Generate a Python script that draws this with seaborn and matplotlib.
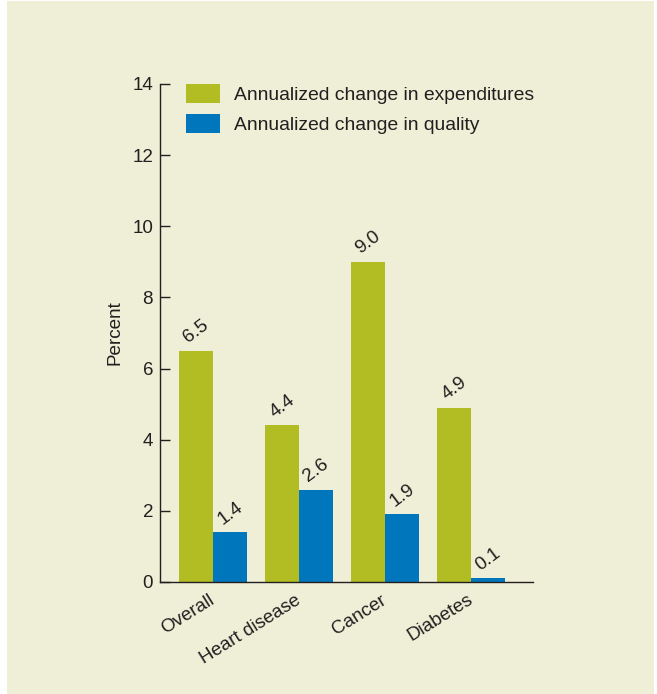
import pandas as pd
import matplotlib.pyplot as plt
import seaborn as sns
from matplotlib.patches import Rectangle

# values
categories = ['Overall', 'Heart disease', 'Cancer', 'Diabetes']
expenditures = [6.5, 4.4, 9.0, 4.9]
quality = [1.4, 2.6, 1.9, 0.1]
series_names = ['Annualized change in expenditures', 'Annualized change in quality']
colors = ['#b1bd22', '#0077bd']

cream = '#efeed6'
ink = '#231f20'

sns.set_style('white')
plt.rcParams['font.family'] = ['Liberation Sans', 'DejaVu Sans']
plt.rcParams['text.color'] = ink
plt.rcParams['axes.labelcolor'] = ink
plt.rcParams['xtick.color'] = ink
plt.rcParams['ytick.color'] = ink

df = pd.DataFrame({
    'category': categories * 2,
    'value': expenditures + quality,
    'series': [series_names[0]] * 4 + [series_names[1]] * 4,
})

fig = plt.figure(figsize=(6.57, 6.94), dpi=100, facecolor='white')
# cream panel with thin white margin like the original
fig.patches.append(Rectangle((7 / 657, 0), 647 / 657, 693 / 694, transform=fig.transFigure,
                             facecolor=cream, edgecolor='none', zorder=-10))
ax = fig.add_axes([160 / 657, 112 / 694, 373 / 657, 498 / 694])
ax.set_facecolor(cream)

sns.barplot(data=df, x='category', y='value', hue='series', palette=colors,
            saturation=1, width=0.79, linewidth=0, edgecolor='none', ax=ax)

for cont in ax.containers:
    ax.bar_label(cont, fmt='%.1f', padding=3, rotation=37, fontsize=13.8, color=ink)

ax.set_ylim(0, 14)
ax.set_xlim(-0.616, 3.72)
ax.set_yticks(range(0, 15, 2))
ax.tick_params(axis='y', direction='in', length=7.2, width=1, labelsize=13.5, pad=5, left=True)
ax.tick_params(axis='x', length=0, labelsize=13.5, pad=12)
for lab in ax.get_xticklabels():
    lab.set_rotation(32)
    lab.set_ha('right')
    lab.set_va('center')
    lab.set_rotation_mode('anchor')

ax.set_xlabel('')
ax.set_ylabel('Percent', fontsize=13.6, labelpad=6)

for s in ['top', 'right']:
    ax.spines[s].set_visible(False)
for s in ['left', 'bottom']:
    ax.spines[s].set_color(ink)
    ax.spines[s].set_linewidth(1)

ax.legend(loc='upper left', bbox_to_anchor=(0.07, 1.0), frameon=False, fontsize=13.9,
          borderpad=0, borderaxespad=0, handlelength=1.75, handleheight=1.13,
          handletextpad=0.72, labelspacing=0.5, title=None)

plt.savefig('out.png', dpi=100, facecolor='white')
